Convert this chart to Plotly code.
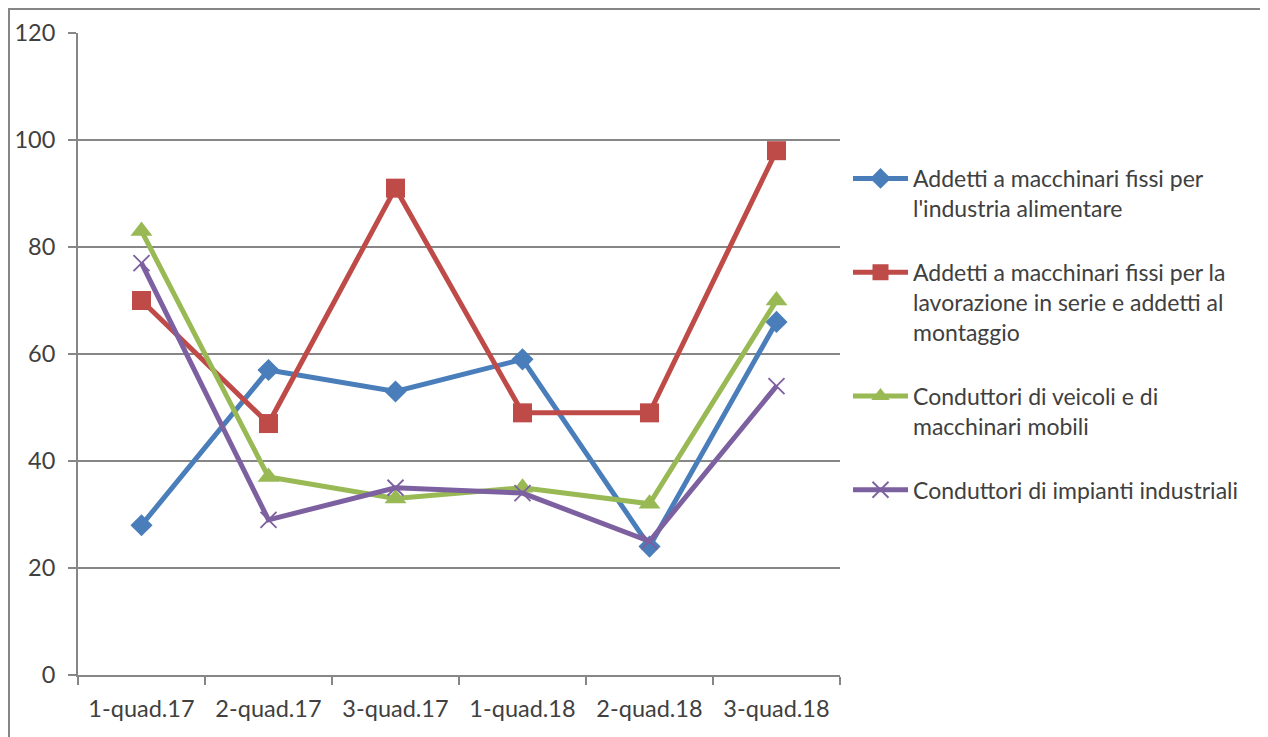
import plotly.graph_objects as go

categories = ["1-quad.17", "2-quad.17", "3-quad.17", "1-quad.18", "2-quad.18", "3-quad.18"]
series_names = [
    "Addetti a macchinari fissi per<br>l'industria alimentare",
    "Addetti a macchinari fissi per la<br>lavorazione in serie e addetti al<br>montaggio",
    "Conduttori di veicoli e di<br>macchinari mobili",
    "Conduttori di impianti industriali",
]
alimentare = [28, 57, 53, 59, 24, 66]
serie_montaggio = [70, 47, 91, 49, 49, 98]
veicoli = [83, 37, 33, 35, 32, 70]
impianti = [77, 29, 35, 34, 25, 54]
y_ticks = [0, 20, 40, 60, 80, 100, 120]

values = [alimentare, serie_montaggio, veicoli, impianti]
colors = ["#4A7EBB", "#BE4B48", "#98B954", "#7D60A0"]
symbols = ["diamond", "square", "triangle-up", "x-thin"]
sizes = [17, 19, 19, 16]

fig = go.Figure()
for name, vals, col, sym, sz in zip(series_names, values, colors, symbols, sizes):
    marker = dict(symbol=sym, size=sz, color=col)
    if sym == "x-thin":
        marker["line"] = dict(color=col, width=1.8)
    fig.add_trace(go.Scatter(
        x=categories, y=vals, name=name, mode="lines+markers",
        line=dict(color=col, width=5), marker=marker,
        legendgroup=name,
    ))

# page body has an 8px default margin, so figure coordinates are screen - 8
W, H = 1260, 729
L, R, T, B = 70, 428, 25, 62
pw, ph = W - L - R, H - T - B

def px_x(p):
    return (p - L) / pw

def px_y(p):
    return (H - B - p) / ph

fig.update_layout(
    width=W, height=H,
    margin=dict(l=L, r=R, t=T, b=B, pad=0, autoexpand=False),
    paper_bgcolor="white", plot_bgcolor="white",
    font=dict(family="Lato, Carlito, sans-serif", size=23, color="#404040"),
    showlegend=True,
    legend=dict(
        x=px_x(840), y=px_y(149), xanchor="left", yanchor="top",
        valign="top", tracegroupgap=31, itemwidth=55,
        font=dict(size=23, color="#404040"),
        bgcolor="rgba(0,0,0,0)",
    ),
    xaxis=dict(
        type="category", range=[-0.5, len(categories) - 0.5],
        tickson="boundaries", ticks="outside", ticklen=8,
        tickcolor="#868686", tickwidth=2, showgrid=False,
        showline=True, linecolor="#868686", linewidth=2,
        ticklabelstandoff=12, tickfont=dict(size=23.5), fixedrange=True,
        automargin=False,
    ),
    yaxis=dict(
        range=[0, 120], tickvals=y_ticks, ticks="outside", ticklen=8,
        tickcolor="#868686", tickwidth=2,
        showgrid=True, gridcolor="#868686", gridwidth=2,
        showline=True, linecolor="#868686", linewidth=2,
        zeroline=False, ticklabelstandoff=8, tickfont=dict(size=23.5),
        automargin=False,
    ),
    shapes=[dict(
        type="rect", xref="paper", yref="paper",
        x0=px_x(1), x1=px_x(1300), y0=px_y(780), y1=px_y(1),
        line=dict(color="#868686", width=2), fillcolor="rgba(0,0,0,0)",
        layer="below",
    )],
)

fig.write_html("out.html")
